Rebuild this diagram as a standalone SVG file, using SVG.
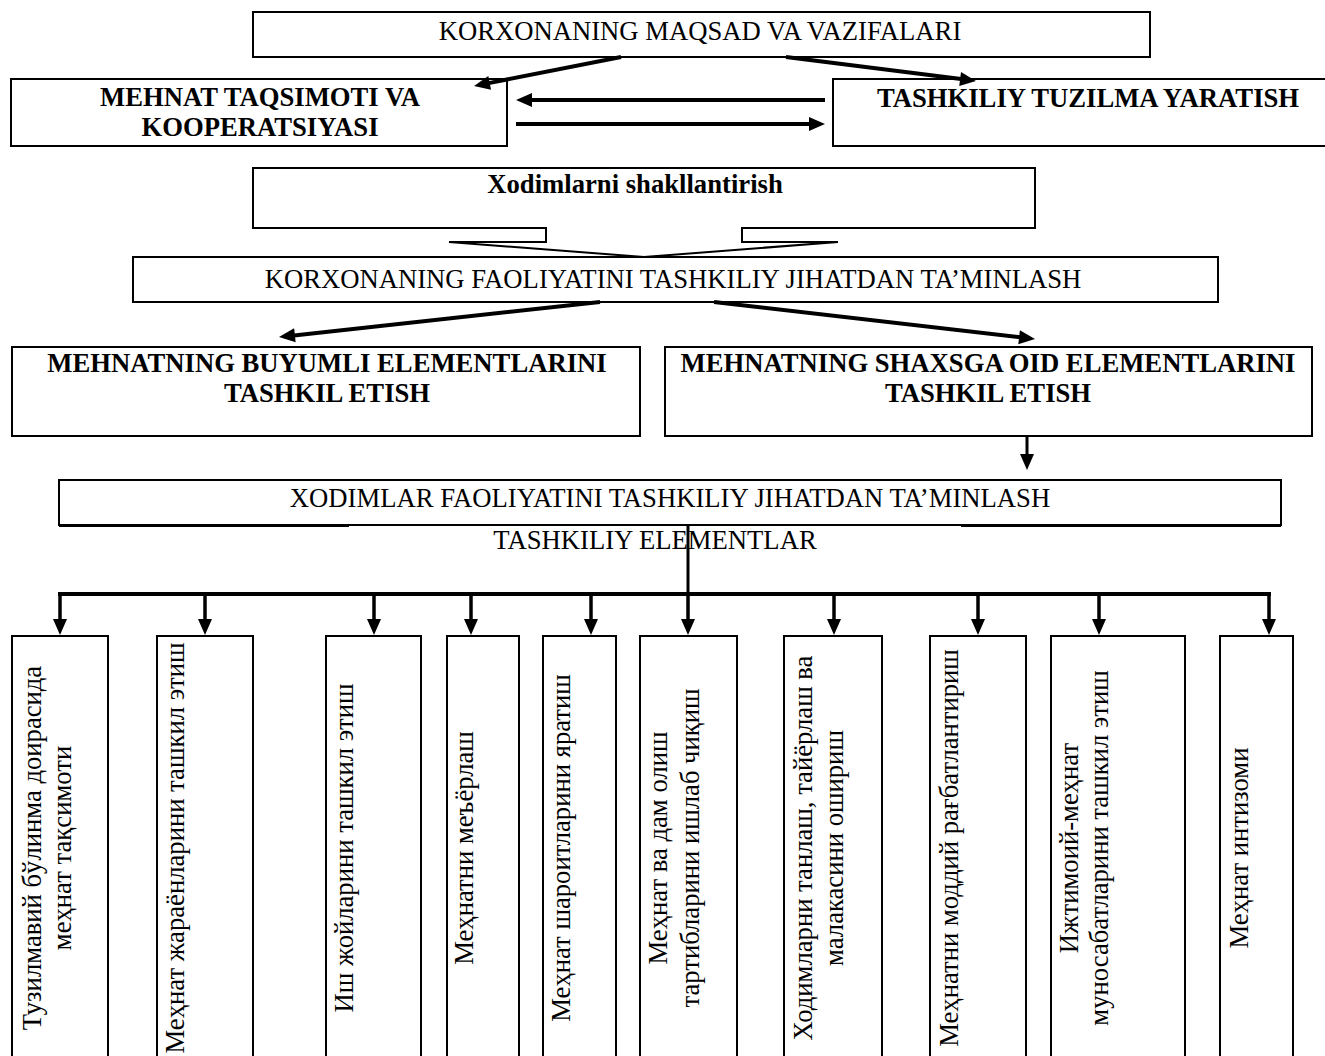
<svg xmlns="http://www.w3.org/2000/svg" width="1325" height="1056" viewBox="0 0 1325 1056">
<style>
.box{fill:#fff;stroke:#000;stroke-width:2}
.t{font-family:"Liberation Serif","Times New Roman",serif;font-size:26.67px;fill:#000}
.b{font-weight:bold}
.m{text-anchor:middle}
.c{fill:none;stroke:#000}
</style>
<defs>
<marker id="ah" markerUnits="userSpaceOnUse" markerWidth="16" markerHeight="14" refX="1" refY="7" orient="auto" overflow="visible">
<path d="M0,0 L16,7 L0,14 Z" fill="#000"/>
</marker>
</defs>
<rect width="1325" height="1056" fill="#fff"/>

<g id="n-maqsad">
<rect class="box" x="253" y="12" width="897" height="45"/>
<text class="t m" x="700" y="40">KORXONANING MAQSAD VA VAZIFALARI</text>
</g>
<g id="n-mehnat-taqsimoti">
<rect class="box" x="11" y="79" width="496" height="67"/>
<text class="t b m" x="260" y="106">MEHNAT TAQSIMOTI VA</text>
<text class="t b m" x="260" y="136">KOOPERATSIYASI</text>
</g>
<g id="n-tuzilma">
<rect class="box" x="833" y="79" width="520" height="67"/>
<text class="t b m" x="1088" y="107">TASHKILIY TUZILMA YARATISH</text>
</g>
<g id="n-xodimlarni">
<path class="box" d="M253,168 H1035 V228 H742 V242 H838 L644,257 L449,242 H546 V228 H253 Z"/>
<text class="t b m" x="635" y="193">Xodimlarni shakllantirish</text>
</g>
<g id="n-korxona-faoliyati">
<rect class="box" x="133" y="257" width="1085" height="45"/>
<text class="t m" x="673" y="288">KORXONANING FAOLIYATINI TASHKILIY JIHATDAN TA’MINLASH</text>
</g>
<g id="n-buyumli">
<rect class="box" x="12" y="347" width="628" height="89"/>
<text class="t b m" x="327" y="372">MEHNATNING BUYUMLI ELEMENTLARINI</text>
<text class="t b m" x="327" y="402">TASHKIL ETISH</text>
</g>
<g id="n-shaxsga">
<rect class="box" x="665" y="347" width="647" height="89"/>
<text class="t b m" x="988" y="372">MEHNATNING SHAXSGA OID ELEMENTLARINI</text>
<text class="t b m" x="988" y="402">TASHKIL ETISH</text>
</g>
<g id="n-xodimlar-faoliyati">
<rect class="box" x="59" y="480" width="1222" height="45" stroke-width="1.5"/>
<line x1="59" y1="525.5" x2="349" y2="525.5" stroke="#000" stroke-width="3"/>
<line x1="961" y1="525.5" x2="1281" y2="525.5" stroke="#000" stroke-width="3"/>
<text class="t m" x="670" y="507">XODIMLAR FAOLIYATINI TASHKILIY JIHATDAN TA’MINLASH</text>
</g>
<g id="n-tashkiliy-elementlar">
<text class="t m" x="655" y="549">TASHKILIY ELEMENTLAR</text>
</g>

<g id="connectors">
<line class="c" stroke-width="4" x1="621" y1="57" x2="488.7" y2="83.1" marker-end="url(#ah)"/>
<line class="c" stroke-width="4" x1="786" y1="57" x2="961.1" y2="79.1" marker-end="url(#ah)"/>
<line class="c" stroke-width="4" x1="825" y1="100" x2="531" y2="100" marker-end="url(#ah)"/>
<line class="c" stroke-width="4" x1="516" y1="124" x2="810" y2="124" marker-end="url(#ah)"/>
<line class="c" stroke-width="4" x1="600" y1="302" x2="293.9" y2="335.4" marker-end="url(#ah)"/>
<line class="c" stroke-width="4" x1="714" y1="302" x2="1020.1" y2="337.3" marker-end="url(#ah)"/>
<line class="c" stroke-width="3" x1="1027" y1="436" x2="1027" y2="455" marker-end="url(#ah)"/>
<line class="c" stroke-width="3" x1="688" y1="525" x2="688" y2="594"/>
<line class="c" stroke-width="4" x1="58" y1="594" x2="1271" y2="594"/>
<g stroke-width="3.5">
<line class="c" x1="60" y1="594" x2="60" y2="620" marker-end="url(#ah)"/>
<line class="c" x1="205" y1="594" x2="205" y2="620" marker-end="url(#ah)"/>
<line class="c" x1="374" y1="594" x2="374" y2="620" marker-end="url(#ah)"/>
<line class="c" x1="471" y1="594" x2="471" y2="620" marker-end="url(#ah)"/>
<line class="c" x1="591" y1="594" x2="591" y2="620" marker-end="url(#ah)"/>
<line class="c" x1="688" y1="594" x2="688" y2="620" marker-end="url(#ah)"/>
<line class="c" x1="834" y1="594" x2="834" y2="620" marker-end="url(#ah)"/>
<line class="c" x1="978" y1="594" x2="978" y2="620" marker-end="url(#ah)"/>
<line class="c" x1="1099" y1="594" x2="1099" y2="620" marker-end="url(#ah)"/>
<line class="c" x1="1269" y1="594" x2="1269" y2="620" marker-end="url(#ah)"/>
</g>
</g>

<g id="n-e1">
<rect class="box" x="12" y="636" width="96" height="440"/>
<text class="t m" transform="translate(41,848) rotate(-90)">Тузилмавий бўлинма доирасида</text>
<text class="t m" transform="translate(71,848) rotate(-90)">меҳнат тақсимоти</text>
</g>
<g id="n-e2">
<rect class="box" x="157" y="636" width="96" height="440"/>
<text class="t m" transform="translate(184,848) rotate(-90)">Меҳнат жараёнларини ташкил этиш</text>
</g>
<g id="n-e3">
<rect class="box" x="326" y="636" width="95" height="440"/>
<text class="t m" transform="translate(353,848) rotate(-90)">Иш жойларини ташкил этиш</text>
</g>
<g id="n-e4">
<rect class="box" x="447" y="636" width="72" height="440"/>
<text class="t m" transform="translate(473,848) rotate(-90)">Меҳнатни меъёрлаш</text>
</g>
<g id="n-e5">
<rect class="box" x="543" y="636" width="73" height="440"/>
<text class="t m" transform="translate(570,848) rotate(-90)">Меҳнат шароитларини яратиш</text>
</g>
<g id="n-e6">
<rect class="box" x="640" y="636" width="97" height="440"/>
<text class="t m" transform="translate(667,848) rotate(-90)">Меҳнат ва дам олиш</text>
<text class="t m" transform="translate(699,848) rotate(-90)">тартибларини ишлаб чиқиш</text>
</g>
<g id="n-e7">
<rect class="box" x="784" y="636" width="98" height="440"/>
<text class="t m" transform="translate(812,848) rotate(-90)">Ходимларни танлаш, тайёрлаш ва</text>
<text class="t m" transform="translate(843,848) rotate(-90)">малакасини ошириш</text>
</g>
<g id="n-e8">
<rect class="box" x="930" y="636" width="96" height="440"/>
<text class="t m" transform="translate(958,848) rotate(-90)">Меҳнатни моддий рағбатлантириш</text>
</g>
<g id="n-e9">
<rect class="box" x="1051" y="636" width="134" height="440"/>
<text class="t m" transform="translate(1078,848) rotate(-90)">Ижтимоий-меҳнат</text>
<text class="t m" transform="translate(1108,848) rotate(-90)">муносабатларини ташкил этиш</text>
</g>
<g id="n-e10">
<rect class="box" x="1220" y="636" width="73" height="440"/>
<text class="t m" transform="translate(1248,848) rotate(-90)">Меҳнат интизоми</text>
</g>
</svg>
